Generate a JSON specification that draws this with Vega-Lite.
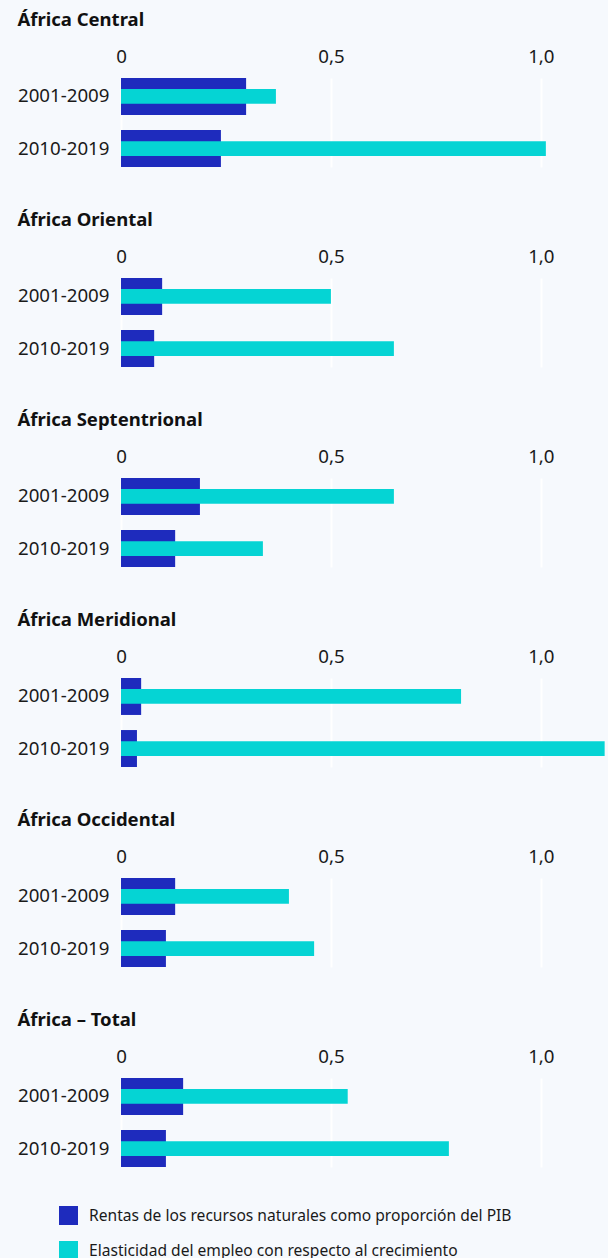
{
  "$schema": "https://vega.github.io/schema/vega-lite/v6.json",
  "background": "#f6f9fd",
  "padding": {"left": 17, "top": 10, "right": 0, "bottom": 0},
  "config": {
    "font": "Noto Sans",
    "view": {"stroke": null},
    "concat": {"spacing": 43},
    "title": {"fontSize": 18.5, "fontWeight": "bold", "color": "#111111", "anchor": "start", "frame": "bounds", "offset": 18},
    "axis": {"labelFontSize": 18.7, "labelColor": "#1a1a1a", "domain": false, "ticks": false, "title": null},
    "axisX": {"labelFlush": false},
    "legend": {"labelFontSize": 15.6, "labelColor": "#1a1a1a", "labelLimit": 600}
  },
  "data": {"values": [
    {"region": "África Central", "period": "2001-2009", "serie": "Rentas de los recursos naturales como proporción del PIB", "valor": 0.298},
    {"region": "África Central", "period": "2001-2009", "serie": "Elasticidad del empleo con respecto al crecimiento", "valor": 0.369},
    {"region": "África Central", "period": "2010-2019", "serie": "Rentas de los recursos naturales como proporción del PIB", "valor": 0.238},
    {"region": "África Central", "period": "2010-2019", "serie": "Elasticidad del empleo con respecto al crecimiento", "valor": 1.012},
    {"region": "África Oriental", "period": "2001-2009", "serie": "Rentas de los recursos naturales como proporción del PIB", "valor": 0.098},
    {"region": "África Oriental", "period": "2001-2009", "serie": "Elasticidad del empleo con respecto al crecimiento", "valor": 0.5},
    {"region": "África Oriental", "period": "2010-2019", "serie": "Rentas de los recursos naturales como proporción del PIB", "valor": 0.079},
    {"region": "África Oriental", "period": "2010-2019", "serie": "Elasticidad del empleo con respecto al crecimiento", "valor": 0.65},
    {"region": "África Septentrional", "period": "2001-2009", "serie": "Rentas de los recursos naturales como proporción del PIB", "valor": 0.188},
    {"region": "África Septentrional", "period": "2001-2009", "serie": "Elasticidad del empleo con respecto al crecimiento", "valor": 0.65},
    {"region": "África Septentrional", "period": "2010-2019", "serie": "Rentas de los recursos naturales como proporción del PIB", "valor": 0.129},
    {"region": "África Septentrional", "period": "2010-2019", "serie": "Elasticidad del empleo con respecto al crecimiento", "valor": 0.338},
    {"region": "África Meridional", "period": "2001-2009", "serie": "Rentas de los recursos naturales como proporción del PIB", "valor": 0.048},
    {"region": "África Meridional", "period": "2001-2009", "serie": "Elasticidad del empleo con respecto al crecimiento", "valor": 0.81},
    {"region": "África Meridional", "period": "2010-2019", "serie": "Rentas de los recursos naturales como proporción del PIB", "valor": 0.038},
    {"region": "África Meridional", "period": "2010-2019", "serie": "Elasticidad del empleo con respecto al crecimiento", "valor": 1.152},
    {"region": "África Occidental", "period": "2001-2009", "serie": "Rentas de los recursos naturales como proporción del PIB", "valor": 0.129},
    {"region": "África Occidental", "period": "2001-2009", "serie": "Elasticidad del empleo con respecto al crecimiento", "valor": 0.4},
    {"region": "África Occidental", "period": "2010-2019", "serie": "Rentas de los recursos naturales como proporción del PIB", "valor": 0.107},
    {"region": "África Occidental", "period": "2010-2019", "serie": "Elasticidad del empleo con respecto al crecimiento", "valor": 0.46},
    {"region": "África – Total", "period": "2001-2009", "serie": "Rentas de los recursos naturales como proporción del PIB", "valor": 0.148},
    {"region": "África – Total", "period": "2001-2009", "serie": "Elasticidad del empleo con respecto al crecimiento", "valor": 0.54},
    {"region": "África – Total", "period": "2010-2019", "serie": "Rentas de los recursos naturales como proporción del PIB", "valor": 0.107},
    {"region": "África – Total", "period": "2010-2019", "serie": "Elasticidad del empleo con respecto al crecimiento", "valor": 0.781}
  ]},
  "vconcat": [
    {"title": "África Central", "width": 487, "height": 89, "transform": [{"filter": "datum.region === 'África Central'"}],
     "encoding": {
       "y": {"field": "period", "type": "nominal", "scale": {"paddingInner": 0.29, "paddingOuter": 0}, "axis": {"labelPadding": 12}},
       "x": {"field": "valor", "type": "quantitative", "scale": {"domain": [0, 1.16], "nice": false}, "axis": {"orient": "top", "values": [0, 0.5, 1], "grid": true, "gridColor": "#ffffff", "gridWidth": 2, "labelPadding": 12, "labelExpr": "datum.value == 0 ? '0' : replace(format(datum.value, '.1f'), '.', ',')"}},
       "color": {"field": "serie", "type": "nominal", "scale": {"domain": ["Rentas de los recursos naturales como proporción del PIB", "Elasticidad del empleo con respecto al crecimiento"], "range": ["#1e2bbd", "#05d4d4"]}, "legend": {"title": null, "orient": "none", "legendX": -62, "legendY": 1128, "symbolType": "square", "symbolSize": 361, "symbolStrokeWidth": 0, "symbolOpacity": 1, "rowPadding": 16, "labelOffset": 11}}
     },
     "layer": [
       {"mark": {"type": "bar"}, "transform": [{"filter": "datum.serie === 'Rentas de los recursos naturales como proporción del PIB'"}]},
       {"mark": {"type": "bar", "height": {"band": 0.4}}, "transform": [{"filter": "datum.serie === 'Elasticidad del empleo con respecto al crecimiento'"}]}
     ]},
    {"title": "África Oriental", "width": 487, "height": 89, "transform": [{"filter": "datum.region === 'África Oriental'"}],
     "encoding": {
       "y": {"field": "period", "type": "nominal", "scale": {"paddingInner": 0.29, "paddingOuter": 0}, "axis": {"labelPadding": 12}},
       "x": {"field": "valor", "type": "quantitative", "scale": {"domain": [0, 1.16], "nice": false}, "axis": {"orient": "top", "values": [0, 0.5, 1], "grid": true, "gridColor": "#ffffff", "gridWidth": 2, "labelPadding": 12, "labelExpr": "datum.value == 0 ? '0' : replace(format(datum.value, '.1f'), '.', ',')"}},
       "color": {"field": "serie", "type": "nominal"}
     },
     "layer": [
       {"mark": {"type": "bar"}, "transform": [{"filter": "datum.serie === 'Rentas de los recursos naturales como proporción del PIB'"}]},
       {"mark": {"type": "bar", "height": {"band": 0.4}}, "transform": [{"filter": "datum.serie === 'Elasticidad del empleo con respecto al crecimiento'"}]}
     ]},
    {"title": "África Septentrional", "width": 487, "height": 89, "transform": [{"filter": "datum.region === 'África Septentrional'"}],
     "encoding": {
       "y": {"field": "period", "type": "nominal", "scale": {"paddingInner": 0.29, "paddingOuter": 0}, "axis": {"labelPadding": 12}},
       "x": {"field": "valor", "type": "quantitative", "scale": {"domain": [0, 1.16], "nice": false}, "axis": {"orient": "top", "values": [0, 0.5, 1], "grid": true, "gridColor": "#ffffff", "gridWidth": 2, "labelPadding": 12, "labelExpr": "datum.value == 0 ? '0' : replace(format(datum.value, '.1f'), '.', ',')"}},
       "color": {"field": "serie", "type": "nominal"}
     },
     "layer": [
       {"mark": {"type": "bar"}, "transform": [{"filter": "datum.serie === 'Rentas de los recursos naturales como proporción del PIB'"}]},
       {"mark": {"type": "bar", "height": {"band": 0.4}}, "transform": [{"filter": "datum.serie === 'Elasticidad del empleo con respecto al crecimiento'"}]}
     ]},
    {"title": "África Meridional", "width": 487, "height": 89, "transform": [{"filter": "datum.region === 'África Meridional'"}],
     "encoding": {
       "y": {"field": "period", "type": "nominal", "scale": {"paddingInner": 0.29, "paddingOuter": 0}, "axis": {"labelPadding": 12}},
       "x": {"field": "valor", "type": "quantitative", "scale": {"domain": [0, 1.16], "nice": false}, "axis": {"orient": "top", "values": [0, 0.5, 1], "grid": true, "gridColor": "#ffffff", "gridWidth": 2, "labelPadding": 12, "labelExpr": "datum.value == 0 ? '0' : replace(format(datum.value, '.1f'), '.', ',')"}},
       "color": {"field": "serie", "type": "nominal"}
     },
     "layer": [
       {"mark": {"type": "bar"}, "transform": [{"filter": "datum.serie === 'Rentas de los recursos naturales como proporción del PIB'"}]},
       {"mark": {"type": "bar", "height": {"band": 0.4}}, "transform": [{"filter": "datum.serie === 'Elasticidad del empleo con respecto al crecimiento'"}]}
     ]},
    {"title": "África Occidental", "width": 487, "height": 89, "transform": [{"filter": "datum.region === 'África Occidental'"}],
     "encoding": {
       "y": {"field": "period", "type": "nominal", "scale": {"paddingInner": 0.29, "paddingOuter": 0}, "axis": {"labelPadding": 12}},
       "x": {"field": "valor", "type": "quantitative", "scale": {"domain": [0, 1.16], "nice": false}, "axis": {"orient": "top", "values": [0, 0.5, 1], "grid": true, "gridColor": "#ffffff", "gridWidth": 2, "labelPadding": 12, "labelExpr": "datum.value == 0 ? '0' : replace(format(datum.value, '.1f'), '.', ',')"}},
       "color": {"field": "serie", "type": "nominal"}
     },
     "layer": [
       {"mark": {"type": "bar"}, "transform": [{"filter": "datum.serie === 'Rentas de los recursos naturales como proporción del PIB'"}]},
       {"mark": {"type": "bar", "height": {"band": 0.4}}, "transform": [{"filter": "datum.serie === 'Elasticidad del empleo con respecto al crecimiento'"}]}
     ]},
    {"title": "África – Total", "width": 487, "height": 89, "transform": [{"filter": "datum.region === 'África – Total'"}],
     "encoding": {
       "y": {"field": "period", "type": "nominal", "scale": {"paddingInner": 0.29, "paddingOuter": 0}, "axis": {"labelPadding": 12}},
       "x": {"field": "valor", "type": "quantitative", "scale": {"domain": [0, 1.16], "nice": false}, "axis": {"orient": "top", "values": [0, 0.5, 1], "grid": true, "gridColor": "#ffffff", "gridWidth": 2, "labelPadding": 12, "labelExpr": "datum.value == 0 ? '0' : replace(format(datum.value, '.1f'), '.', ',')"}},
       "color": {"field": "serie", "type": "nominal"}
     },
     "layer": [
       {"mark": {"type": "bar"}, "transform": [{"filter": "datum.serie === 'Rentas de los recursos naturales como proporción del PIB'"}]},
       {"mark": {"type": "bar", "height": {"band": 0.4}}, "transform": [{"filter": "datum.serie === 'Elasticidad del empleo con respecto al crecimiento'"}]}
     ]}
  ]
}
